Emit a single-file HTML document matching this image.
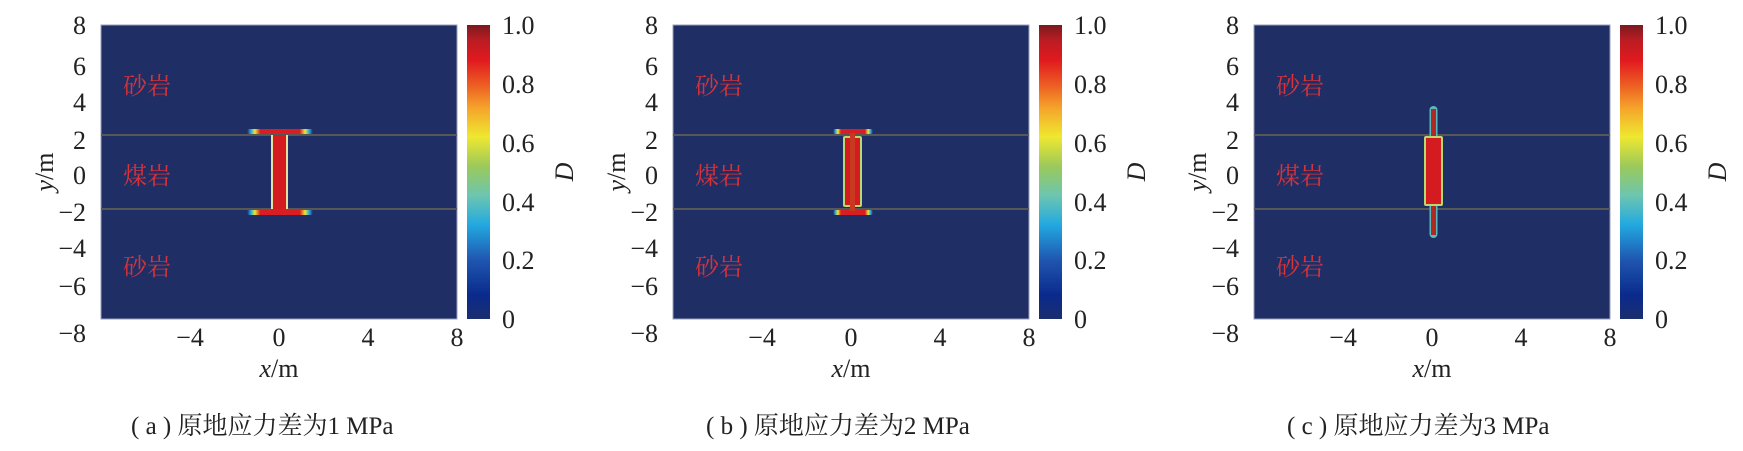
<!DOCTYPE html>
<html><head><meta charset="utf-8"><style>
html,body{margin:0;padding:0;background:#fff;}
svg{display:block;}
text{font-family:"Liberation Serif","Noto Serif CJK SC",serif;fill:#222;}
.cn{font-family:"Liberation Serif","Noto Serif CJK SC","Noto Sans CJK SC",serif;}
</style></head><body>
<svg width="1743" height="451" viewBox="0 0 1743 451" xmlns="http://www.w3.org/2000/svg">
<defs>
<linearGradient id="cb" x1="0" y1="1" x2="0" y2="0">
<stop offset="0" stop-color="#1b2e6e"/>
<stop offset="0.08" stop-color="#0a2a8c"/>
<stop offset="0.2" stop-color="#1f55b0"/>
<stop offset="0.32" stop-color="#22a9e0"/>
<stop offset="0.42" stop-color="#6cc6b0"/>
<stop offset="0.52" stop-color="#9cc95a"/>
<stop offset="0.62" stop-color="#efe830"/>
<stop offset="0.72" stop-color="#f5a22a"/>
<stop offset="0.8" stop-color="#ec5a22"/>
<stop offset="0.88" stop-color="#e11a20"/>
<stop offset="0.95" stop-color="#b81c22"/>
<stop offset="1" stop-color="#7a1a1e"/>
</linearGradient>
<linearGradient id="cap" x1="0" y1="0" x2="1" y2="0">
<stop offset="0" stop-color="#1f2f66"/>
<stop offset="0.06" stop-color="#2aa9e0"/>
<stop offset="0.12" stop-color="#efe830"/>
<stop offset="0.2" stop-color="#d81e22"/>
<stop offset="0.8" stop-color="#d81e22"/>
<stop offset="0.88" stop-color="#efe830"/>
<stop offset="0.94" stop-color="#2aa9e0"/>
<stop offset="1" stop-color="#1f2f66"/>
</linearGradient>
<g id="axes">
<rect x="0" y="25" width="356" height="294" fill="#1f2f66" stroke="#9aa0b8" stroke-width="1"/>
<line x1="0" y1="135" x2="356" y2="135" stroke="#777" stroke-width="2"/>
<line x1="0" y1="135" x2="356" y2="135" stroke="#222" stroke-width="0.8"/>
<line x1="0" y1="209" x2="356" y2="209" stroke="#777" stroke-width="2"/>
<line x1="0" y1="209" x2="356" y2="209" stroke="#222" stroke-width="0.8"/>
<text x="22" y="94" font-size="24" class="cn" style="fill:#d8323a">砂岩</text>
<text x="22" y="184" font-size="24" class="cn" style="fill:#d8323a">煤岩</text>
<text x="22" y="275" font-size="24" class="cn" style="fill:#d8323a">砂岩</text>
<g font-size="26" text-anchor="end">
<text x="-15" y="34">8</text><text x="-15" y="75">6</text><text x="-15" y="111">4</text>
<text x="-15" y="149">2</text><text x="-15" y="184">0</text><text x="-15" y="221">−2</text>
<text x="-15" y="257">−4</text><text x="-15" y="295">−6</text><text x="-15" y="342">−8</text>
</g>
<g font-size="26" text-anchor="middle">
<text x="89" y="346">−4</text><text x="178" y="346">0</text><text x="267" y="346">4</text><text x="356" y="346">8</text>
<text x="178" y="377"><tspan font-style="italic">x</tspan>/m</text>
</g>
<text transform="translate(-48,172) rotate(-90)" font-size="26" text-anchor="middle"><tspan font-style="italic">y</tspan>/m</text>
<rect x="366" y="25" width="23" height="294" fill="url(#cb)"/>
<g font-size="26">
<text x="401" y="34">1.0</text><text x="401" y="93">0.8</text><text x="401" y="152">0.6</text>
<text x="401" y="211">0.4</text><text x="401" y="269">0.2</text><text x="401" y="328">0</text>
</g>
<text transform="translate(472,172) rotate(-90)" font-size="26" font-style="italic" text-anchor="middle">D</text>
</g>
</defs>

<!-- panel a -->
<g transform="translate(101,0)">
<use href="#axes"/>
<rect x="146" y="129" width="66" height="5" rx="2.5" fill="url(#cap)"/>
<rect x="146" y="210" width="66" height="5" rx="2.5" fill="url(#cap)"/>
<rect x="170" y="135" width="17" height="74" fill="#e8e0a0"/>
<rect x="172" y="135" width="13" height="74" fill="#d41c20"/>
<text x="30" y="434" font-size="25" class="cn">( a ) 原地应力差为1 MPa</text>
</g>

<!-- panel b -->
<g transform="translate(673,0)">
<use href="#axes"/>
<rect x="160" y="129" width="40" height="5" rx="2.5" fill="url(#cap)"/>
<rect x="160" y="210" width="40" height="5" rx="2.5" fill="url(#cap)"/>
<rect x="170" y="136" width="19" height="71" rx="2" fill="#b8d870"/>
<rect x="172" y="138" width="15" height="67" fill="#d41c20"/>
<rect x="177" y="133" width="5" height="78" fill="#c83a20"/>
<text x="33" y="434" font-size="25" class="cn">( b ) 原地应力差为2 MPa</text>
</g>

<!-- panel c -->
<g transform="translate(1254,0)">
<use href="#axes"/>
<rect x="175.5" y="106" width="8" height="132" rx="4" fill="#5ab8c0"/>
<rect x="177" y="109" width="5" height="126" fill="#b02a22"/>
<rect x="170" y="136" width="19" height="70" rx="2" fill="#b8d870"/>
<rect x="172" y="138" width="15" height="66" fill="#d41c20"/>
<text x="33" y="434" font-size="25" class="cn">( c ) 原地应力差为3 MPa</text>
</g>
</svg>
</body></html>
